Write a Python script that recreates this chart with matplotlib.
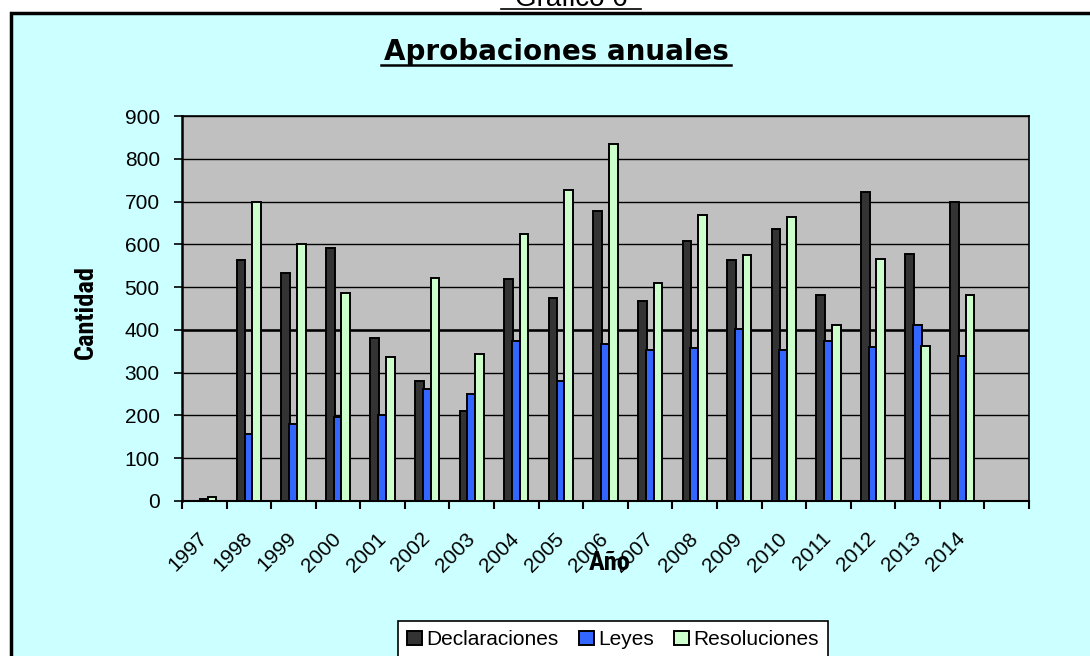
import matplotlib.pyplot as plt
import numpy as np
from matplotlib.lines import Line2D
from matplotlib.patches import Rectangle
from matplotlib import font_manager

# datos
anios = ["1997", "1998", "1999", "2000", "2001", "2002", "2003", "2004", "2005",
         "2006", "2007", "2008", "2009", "2010", "2011", "2012", "2013", "2014", ""]
declaraciones = [1, 563, 533, 592, 380, 281, 210, 519, 475, 679,
                 468, 608, 564, 637, 482, 723, 578, 698]
leyes = [5, 157, 180, 197, 201, 262, 250, 374, 281, 367,
         353, 357, 401, 352, 375, 361, 412, 339]
resoluciones = [10, 698, 601, 487, 337, 521, 344, 625, 728, 834,
                510, 669, 574, 665, 412, 566, 363, 482]

series = [("Declaraciones", declaraciones, "#333333"),
          ("Leyes", leyes, "#3366FF"),
          ("Resoluciones", resoluciones, "#CCFFCC")]

# fuente estrecha para los rótulos de ejes, si existe
nombres = {f.name for f in font_manager.fontManager.ttflist}
estrecha = [f for f in ["Liberation Sans Narrow", "Roboto Condensed", "Open Sans Condensed",
                        "DejaVu Sans Condensed"] if f in nombres]
fam_ejes = estrecha[0] if estrecha else "Liberation Sans"
tam_ejes = 19 if estrecha else 15

W, H = 1090, 656
fig = plt.figure(figsize=(W / 100, H / 100), dpi=100)
fig.patch.set_facecolor("white")

# marco cian con borde negro
fig.add_artist(Rectangle((11 / W, -0.1), 1.2, 1.1 - 13 / H, transform=fig.transFigure,
                         facecolor="#CCFFFF", edgecolor="black", linewidth=2.5, zorder=0))

# "Gráfico 6" (cortado arriba, como en el original)
fig.text(571 / W, 1 - 6 / H, "Gráfico 6", ha="center", va="baseline",
         fontsize=20, family="Liberation Sans")
fig.add_artist(Line2D([501 / W, 641 / W], [1 - 9 / H, 1 - 9 / H], color="black", lw=1.2,
                      transform=fig.transFigure))

# título
fig.text(556 / W, 1 - 60 / H, "Aprobaciones anuales", ha="center", va="baseline",
         fontsize=20, fontweight="bold", family="DejaVu Sans")
fig.add_artist(Line2D([381 / W, 731 / W], [1 - 65 / H, 1 - 65 / H], color="black", lw=1.8,
                      transform=fig.transFigure))

ax = fig.add_axes([182 / W, 1 - 501 / H, 847 / W, 385 / H])
ax.set_facecolor("#C0C0C0")

n = len(anios)
x = np.arange(len(declaraciones))
step = 0.175
width = 0.195
for i, (nombre, vals, color) in enumerate(series):
    ax.bar(x + (i - 1) * step, vals, width=width, color=color, edgecolor="black",
           linewidth=1.4, label=nombre, zorder=3 + i)

ax.set_xlim(-0.5, n - 0.5)
ax.set_ylim(0, 900)
ax.set_yticks(range(0, 901, 100))
ax.yaxis.grid(True, color="black", linewidth=1, zorder=1)
ax.set_axisbelow(True)
ax.axhline(400, color="black", linewidth=1.8, zorder=1)

ax.set_xticks(np.arange(n + 1) - 0.5, minor=False)
ax.set_xticklabels([])
ax.set_xticks(np.arange(n), minor=True)
ax.set_xticklabels(anios, minor=True, rotation=45, ha="right", va="center",
                   rotation_mode="anchor", fontsize=15, family="Liberation Sans")
ax.tick_params(axis="x", which="minor", length=0, pad=25)
ax.tick_params(axis="x", which="major", length=6, width=1.5, direction="out")
ax.tick_params(axis="y", length=6, width=1.2, direction="out", pad=10)
for lab in ax.get_yticklabels():
    lab.set_fontsize(15)
    lab.set_family("Liberation Sans")

for s in ["top", "right"]:
    ax.spines[s].set_linewidth(1.2)
ax.spines["left"].set_linewidth(1.8)
ax.spines["bottom"].set_linewidth(1.5)

fig.text(610 / W, 1 - 563 / H, "Año", ha="center", va="center", fontsize=tam_ejes,
         fontweight="bold", family=fam_ejes)
fig.text(86 / W, 1 - 312 / H, "Cantidad", ha="center", va="center", rotation=90,
         fontsize=tam_ejes, fontweight="bold", family=fam_ejes)

leg = fig.legend(loc="upper center", bbox_to_anchor=(613 / W, 1 - 621 / H), ncol=3,
                 borderaxespad=0, frameon=True, fancybox=False, edgecolor="black",
                 framealpha=1, facecolor="white", handlelength=0.7, handleheight=0.7,
                 handletextpad=0.2, columnspacing=1.0, borderpad=0.45,
                 prop={"family": "Liberation Sans", "size": 15})
leg.get_frame().set_linewidth(1.2)

fig.savefig("out.png", dpi=100)
